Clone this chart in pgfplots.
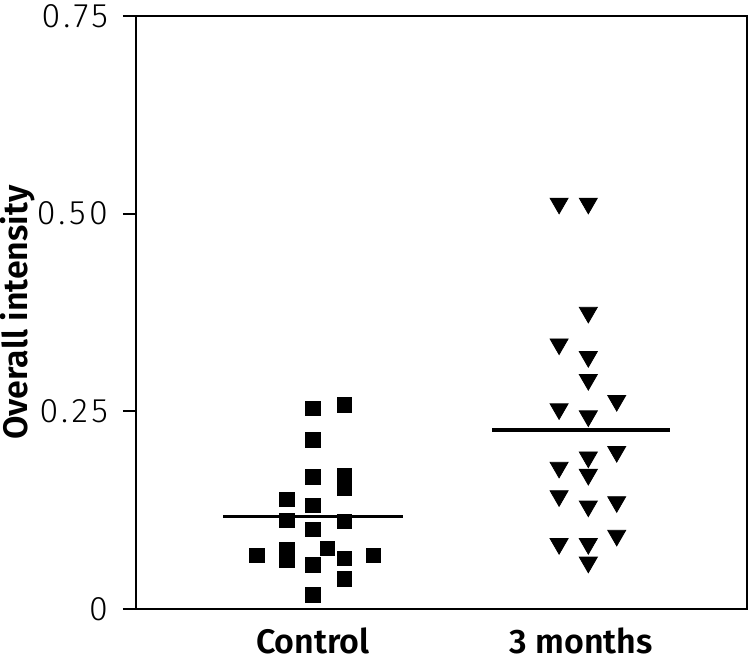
\documentclass[border=0pt]{standalone}
\usepackage{fontspec}
\setmainfont{Fira Sans}[BoldFont={Fira Sans SemiBold}]
\newfontfamily\lightfont{Fira Sans Light}[LetterSpace=10]
\usepackage{pgfplots}
\pgfplotsset{compat=1.18}
\begin{document}
\begin{tikzpicture}
\begin{axis}[
  scale only axis, width=305.5pt, height=296.5pt,
  xmin=0.3396, xmax=2.619, ymin=0, ymax=0.75,
  axis line style={line width=1pt},
  xtick={1,2}, xticklabels={Control, 3 months},
  x tick label style={font=\fontsize{17}{20}\selectfont\bfseries, anchor=base, yshift=-16pt},
  major x tick style={draw=none},
  ytick={0,0.25,0.5,0.75}, yticklabels={0,0.25,0.50,0.75},
  y tick label style={font=\fontsize{17}{20}\selectfont\lightfont, xshift=-4pt},
  ytick pos=left, tick align=outside, major tick length=6.5pt,
  major y tick style={line width=1pt, black},
  ylabel={Overall intensity},
  every axis y label/.style={at={(axis description cs:-0.193,0.5)}, rotate=90, anchor=center, font=\fontsize{17}{20}\selectfont\bfseries},
  /pgf/number format/assume math mode=true,
  clip=false,
]
\addplot[only marks, mark=square*, mark size=3.6pt, black] coordinates {
(1.000,0.254) (1.116,0.258) (1.000,0.214) (1.000,0.167) (1.116,0.169)
(1.116,0.153) (0.902,0.1385) (1.000,0.131) (0.902,0.112) (1.116,0.111)
(1.000,0.101) (0.790,0.068) (0.902,0.075) (0.902,0.062) (1.053,0.077)
(1.116,0.064) (1.225,0.068) (1.000,0.056) (1.116,0.038) (1.000,0.018)
};
\addplot[only marks, mark=triangle*, mark size=5.2pt, mark options={rotate=180}, black] coordinates {
(1.918,0.513) (2.027,0.513) (2.027,0.375) (1.918,0.335) (2.027,0.319)
(2.027,0.290) (2.133,0.2635) (1.918,0.253) (2.027,0.244) (2.133,0.199)
(2.027,0.192) (1.918,0.179) (2.027,0.170) (1.918,0.143) (2.133,0.1355)
(2.027,0.130) (2.133,0.093) (1.918,0.0825) (2.027,0.0825) (2.027,0.059)
};
\addplot[black, line width=1.6pt] coordinates {(0.666,0.117) (1.334,0.117)};
\addplot[black, line width=1.6pt] coordinates {(1.668,0.2264) (2.332,0.2264)};
\end{axis}
\pgfresetboundingbox
\path (current axis.south west) ++(-68pt,-26pt) rectangle ([shift={(1.5pt,8pt)}]current axis.north east);
\end{tikzpicture}
\end{document}
